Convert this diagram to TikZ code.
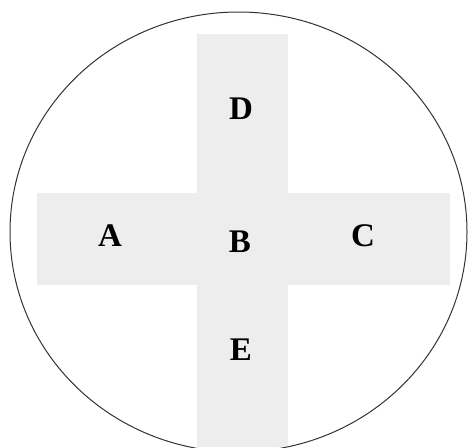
\documentclass[tikz,border=0pt]{standalone}
\usepackage{fontspec}
\setmainfont{Liberation Serif}
\begin{document}
\begin{tikzpicture}[x=1pt,y=-1pt,
  lbl/.style={font=\fontsize{33}{34}\selectfont\bfseries, inner sep=0pt},
  bar/.style={fill=black!7, draw=none}]
\useasboundingbox (0,0) rectangle (470,447);
\fill[white] (0,0) rectangle (470,447);
\begin{scope}
\clip (0,0) rectangle (470,447);
\fill[bar] (197,34) rectangle (288,447);
\fill[bar] (37,193) rectangle (450,285);
\draw[line width=1pt, black!80] (238.5,232) ellipse [x radius=228.5, y radius=220];
\end{scope}
\node[lbl] (D) at (241,109) {D};
\node[lbl] (A) at (110,236) {A};
\node[lbl] (B) at (240,242) {B};
\node[lbl] (C) at (363,236) {C};
\node[lbl] (E) at (241,350) {E};
\end{tikzpicture}
\end{document}
